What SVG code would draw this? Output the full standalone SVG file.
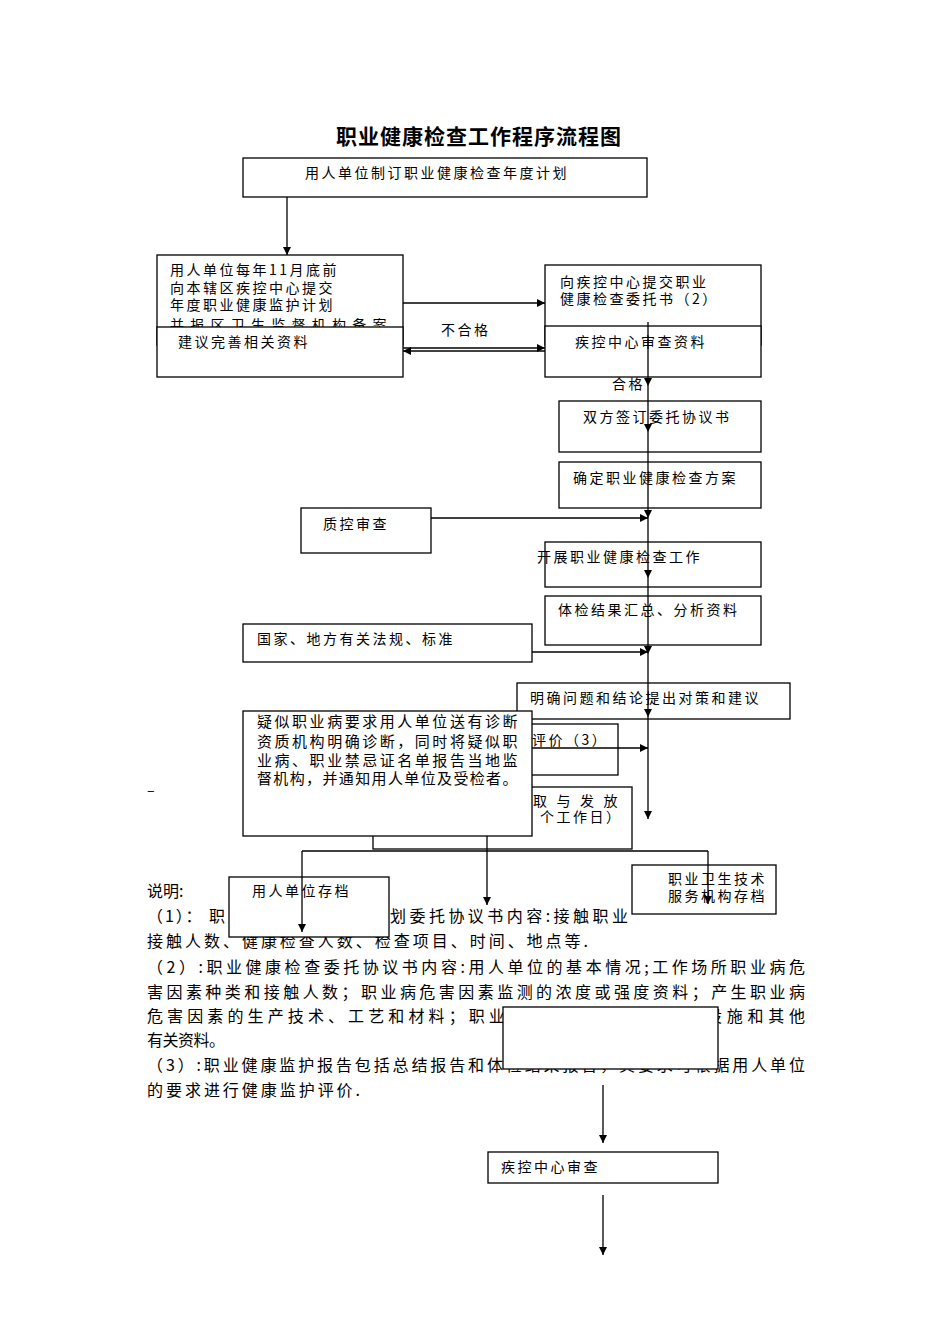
<svg xmlns="http://www.w3.org/2000/svg" width="950" height="1344" viewBox="0 0 950 1344">
<style>
text{font-family:"Noto Sans CJK SC","Liberation Sans",sans-serif;fill:#000}
.t{font-size:14px;letter-spacing:2.5px}
.b{font-size:15px;letter-spacing:2.5px}
.p{font-size:16px}
.title{font-size:21px;font-weight:bold;letter-spacing:1px}
rect{fill:#fff;stroke:#000;stroke-width:1.3}
.c line{stroke:#000;stroke-width:1.3}
.a{marker-end:url(#ah)}
</style>
<defs>
<marker id="ah" viewBox="0 0 10 10" refX="10" refY="5" markerWidth="9" markerHeight="8" markerUnits="userSpaceOnUse" orient="auto"><path d="M0,0 L10,5 L0,10 z" fill="#000"/></marker>
</defs>
<rect x="0" y="0" width="950" height="1344" style="stroke:none"/>
<text class="title" x="336" y="144">职业健康检查工作程序流程图</text>

<g id="notes">
<text class="p" x="147" y="897">说明:</text>
<text class="p" x="147" y="922" textLength="78" lengthAdjust="spacing">（1）： 职</text>
<text class="p" x="390" y="922" textLength="238" lengthAdjust="spacing">划委托协议书内容:接触职业</text>
<text class="p" x="147" y="947" textLength="441" lengthAdjust="spacing">接触人数、健康检查人数、检查项目、时间、地点等.</text>
<text class="p" x="147" y="973" textLength="658" lengthAdjust="spacing">（2）:职业健康检查委托协议书内容:用人单位的基本情况;工作场所职业病危</text>
<text class="p" x="147" y="998" textLength="658" lengthAdjust="spacing">害因素种类和接触人数；职业病危害因素监测的浓度或强度资料；产生职业病</text>
<text class="p" x="147" y="1022" textLength="378" lengthAdjust="spacing">危害因素的生产技术、工艺和材料；职业病</text>
<text class="p" x="706" y="1022" textLength="99" lengthAdjust="spacing">设施和其他</text>
<text class="p" x="147" y="1046" textLength="78" lengthAdjust="spacing">有关资料。</text>
<text class="p" x="147" y="1071" textLength="658" lengthAdjust="spacing">（3）:职业健康监护报告包括总结报告和体检结果报告，其要求可根据用人单位</text>
<text class="p" x="147" y="1096" textLength="213" lengthAdjust="spacing">的要求进行健康监护评价.</text>
<text class="t" x="147" y="795">–</text>
</g>

<g id="n1"><rect x="243" y="158" width="404" height="39"/><text class="t" x="305" y="178">用人单位制订职业健康检查年度计划</text></g>
<g id="n2"><rect x="157" y="255" width="246" height="90"/>
<text class="t" x="170" y="275">用人单位每年11月底前</text>
<text class="t" x="170" y="293">向本辖区疾控中心提交</text>
<text class="t" x="170" y="310">年度职业健康监护计划</text>
<text class="t" x="170" y="330" textLength="219" lengthAdjust="spacing">并报区卫生监督机构备案</text></g>
<g id="n3"><rect x="157" y="327" width="246" height="50"/><text class="t" x="178" y="347">建议完善相关资料</text></g>
<g id="n4"><rect x="545" y="265" width="216" height="80"/>
<text class="t" x="560" y="287">向疾控中心提交职业</text>
<text class="t" x="560" y="304">健康检查委托书（2）</text></g>
<g id="n5"><rect x="545" y="326" width="216" height="51"/><text class="t" x="575" y="347">疾控中心审查资料</text></g>
<g id="n6"><rect x="559" y="401" width="202" height="51"/><text class="t" x="583" y="422">双方签订委托协议书</text></g>
<g id="n7"><rect x="559" y="462" width="202" height="46"/><text class="t" x="573" y="483">确定职业健康检查方案</text></g>
<g id="n8"><rect x="301" y="508" width="130" height="45"/><text class="t" x="323" y="529">质控审查</text></g>
<g id="n9"><rect x="545" y="542" width="216" height="45"/><text class="t" x="537" y="562">开展职业健康检查工作</text></g>
<g id="n10"><rect x="545" y="596" width="216" height="49"/><text class="t" x="558" y="615">体检结果汇总、分析资料</text></g>
<g id="n11"><rect x="243" y="624" width="289" height="38"/><text class="t" x="257" y="644">国家、地方有关法规、标准</text></g>
<g id="n12"><rect x="517" y="683" width="273" height="36"/><text class="t" x="530" y="703">明确问题和结论提出对策和建议</text></g>
<g id="n13"><rect x="373" y="724" width="245" height="51"/><text class="t" x="532" y="745">评价（3）</text></g>
<g id="n14"><rect x="373" y="787" width="259" height="62"/>
<text class="t" x="533" y="806" textLength="87" lengthAdjust="spacing">取 与 发 放</text>
<text class="t" x="540" y="822">个工作日）</text></g>
<g id="n15"><rect x="243" y="711" width="289" height="125"/>
<text class="b" x="257" y="727" textLength="263" lengthAdjust="spacing">疑似职业病要求用人单位送有诊断</text>
<text class="b" x="257" y="747" textLength="263" lengthAdjust="spacing">资质机构明确诊断，同时将疑似职</text>
<text class="b" x="257" y="766" textLength="263" lengthAdjust="spacing">业病、职业禁忌证名单报告当地监</text>
<text class="b" x="257" y="784" textLength="263" lengthAdjust="spacing">督机构，并通知用人单位及受检者。</text></g>
<g id="n16"><rect x="229" y="877" width="160" height="60"/><text class="t" x="252" y="896">用人单位存档</text></g>
<g id="n17"><rect x="632" y="865" width="144" height="49"/>
<text class="t" x="668" y="884">职业卫生技术</text>
<text class="t" x="668" y="901">服务机构存档</text></g>
<g id="n18"><rect x="503" y="1007" width="215" height="62"/></g>
<g id="n19"><rect x="488" y="1152" width="230" height="31"/><text class="t" x="501" y="1172">疾控中心审查</text></g>

<g id="labels">
<text class="t" x="441" y="335">不合格</text>
<text class="t" x="612" y="389">合格</text>
</g>

<g id="connectors" class="c">
<line class="a" x1="287" y1="197" x2="287" y2="255"/>
<line class="a" x1="403" y1="303" x2="545" y2="303"/>
<line class="a" x1="403" y1="348" x2="545" y2="348"/>
<line class="a" x1="545" y1="351" x2="403" y2="351"/>
<line class="a" x1="648" y1="322" x2="648" y2="386"/>
<line class="a" x1="648" y1="386" x2="648" y2="432"/>
<line class="a" x1="648" y1="432" x2="648" y2="518"/>
<line class="a" x1="431" y1="518" x2="648" y2="518"/>
<line class="a" x1="648" y1="518" x2="648" y2="578"/>
<line class="a" x1="648" y1="578" x2="648" y2="654"/>
<line class="a" x1="532" y1="652" x2="648" y2="652"/>
<line class="a" x1="648" y1="654" x2="648" y2="717"/>
<line class="a" x1="648" y1="717" x2="648" y2="819"/>
<line class="a" x1="532" y1="748" x2="648" y2="748"/>
<line x1="302" y1="851" x2="708" y2="851"/>
<line class="a" x1="302" y1="851" x2="302" y2="932"/>
<line class="a" x1="487" y1="836" x2="487" y2="905"/>
<line class="a" x1="708" y1="851" x2="708" y2="904"/>
<line class="a" x1="603" y1="1085" x2="603" y2="1143"/>
<line class="a" x1="603" y1="1195" x2="603" y2="1255"/>
</g>
</svg>
